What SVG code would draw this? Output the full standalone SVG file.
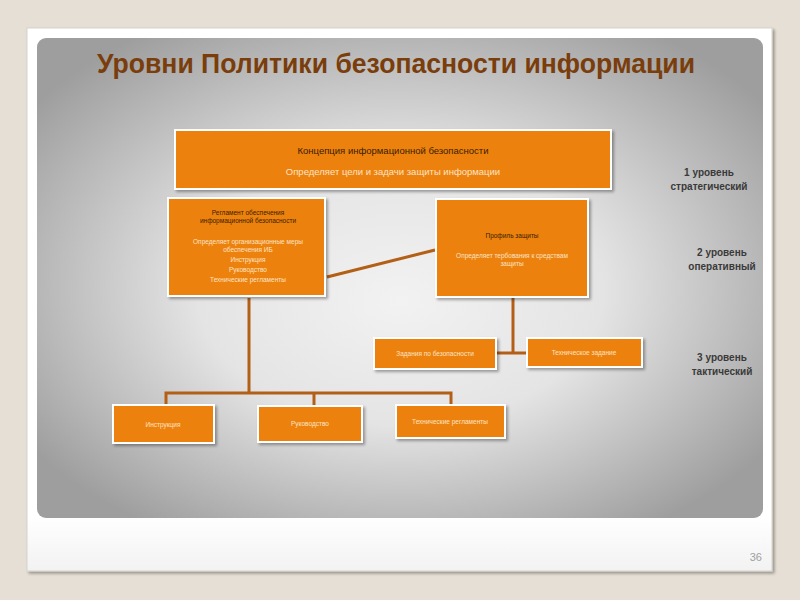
<svg xmlns="http://www.w3.org/2000/svg" width="800" height="600" viewBox="0 0 800 600">
  <defs>
    <radialGradient id="panelGrad" cx="0.5" cy="0.5" r="0.62" fx="0.5" fy="0.55">
      <stop offset="0" stop-color="#f2f2f2"/>
      <stop offset="0.45" stop-color="#e4e4e4"/>
      <stop offset="1" stop-color="#9e9e9e"/>
    </radialGradient>
    <linearGradient id="cardGrad" x1="0" y1="0" x2="0" y2="1">
      <stop offset="0" stop-color="#ffffff"/>
      <stop offset="0.9" stop-color="#ffffff"/>
      <stop offset="1" stop-color="#f2f2f2"/>
    </linearGradient>
    <filter id="shadow" x="-10%" y="-10%" width="130%" height="130%">
      <feGaussianBlur in="SourceAlpha" stdDeviation="1.5"/>
      <feOffset dx="2" dy="2"/>
      <feComponentTransfer><feFuncA type="linear" slope="0.35"/></feComponentTransfer>
      <feMerge><feMergeNode/><feMergeNode in="SourceGraphic"/></feMerge>
    </filter>
  </defs>
  <style>
    .box { fill: #ec820c; stroke: #ffffff; stroke-width: 2; filter: url(#shadow); }
    .t { font-family: "Liberation Sans", Arial, sans-serif; text-anchor: middle; }
    .dark { fill: #3a1c00; }
    .light { fill: #fde3c6; }
    .lvl { font-family: "Liberation Sans", Arial, sans-serif; font-weight: bold; font-size: 10px; fill: #3a3a3a; text-anchor: middle; }
    .conn { stroke: #b45f16; stroke-width: 3; fill: none; }
  </style>

  <rect x="0" y="0" width="800" height="600" fill="#e5dfd5"/>
  <rect x="27" y="28" width="745" height="543" fill="url(#cardGrad)" stroke="#d8d3ca" stroke-width="1" filter="url(#shadow)"/>
  <rect x="37" y="38" width="726" height="480" rx="9" ry="9" fill="url(#panelGrad)"/>

  <text x="396" y="73" font-family="'Liberation Sans', Arial, sans-serif" font-weight="bold" font-size="28" fill="#7a3d0c" text-anchor="middle" textLength="598" lengthAdjust="spacingAndGlyphs">Уровни Политики безопасности информации</text>

  <g id="connectors">
    <line class="conn" x1="327" y1="277" x2="435" y2="250"/>
    <polyline class="conn" points="249,298 249,393"/>
    <polyline class="conn" points="166,405 166,393 451,393 451,405"/>
    <line class="conn" x1="314" y1="393" x2="314" y2="406"/>
    <polyline class="conn" points="513,298 513,353"/>
    <line class="conn" x1="497" y1="353" x2="527" y2="353"/>
  </g>

  <g id="node-concept">
    <rect class="box" x="175" y="130" width="436" height="59"/>
    <text class="t dark" x="393" y="154" font-size="9.5">Концепция информационной безопасности</text>
    <text class="t light" x="393" y="175" font-size="9.5">Определяет цели и задачи защиты информации</text>
  </g>

  <g id="node-reglament">
    <rect class="box" x="168" y="198" width="157" height="98"/>
    <text class="t dark" x="248" y="215" font-size="6.5">Регламент обеспечения</text>
    <text class="t dark" x="248" y="223" font-size="6.5">информационной безопасности</text>
    <text class="t light" x="248" y="244" font-size="6.5">Определяет организационные меры</text>
    <text class="t light" x="248" y="252" font-size="6.5">обеспечения ИБ</text>
    <text class="t light" x="248" y="262" font-size="6.5">Инструкция</text>
    <text class="t light" x="248" y="272" font-size="6.5">Руководство</text>
    <text class="t light" x="248" y="282" font-size="6.5">Технические регламенты</text>
  </g>

  <g id="node-profile">
    <rect class="box" x="436" y="199" width="152" height="98"/>
    <text class="t dark" x="512" y="238" font-size="6.5">Профиль защиты</text>
    <text class="t light" x="512" y="258" font-size="6.5">Определяет тербования к средствам</text>
    <text class="t light" x="512" y="266" font-size="6.5">защиты</text>
  </g>

  <g id="node-zadaniya">
    <rect class="box" x="374" y="338" width="122" height="31"/>
    <text class="t light" x="435" y="356" font-size="6.5">Задания по безопасности</text>
  </g>

  <g id="node-tz">
    <rect class="box" x="527" y="338" width="115" height="29"/>
    <text class="t light" x="584" y="355" font-size="6.5">Техническое задание</text>
  </g>

  <g id="node-instr">
    <rect class="box" x="113" y="405" width="101" height="38"/>
    <text class="t light" x="163" y="427" font-size="6.5">Инструкция</text>
  </g>

  <g id="node-ruk">
    <rect class="box" x="258" y="406" width="104" height="36"/>
    <text class="t light" x="310" y="426" font-size="6.5">Руководство</text>
  </g>

  <g id="node-techreg">
    <rect class="box" x="396" y="405" width="109" height="33"/>
    <text class="t light" x="450" y="424" font-size="6.5">Технические регламенты</text>
  </g>

  <g id="levels">
    <text class="lvl" x="709" y="176">1 уровень</text>
    <text class="lvl" x="709" y="190">стратегический</text>
    <text class="lvl" x="722" y="256">2 уровень</text>
    <text class="lvl" x="722" y="270">оперативный</text>
    <text class="lvl" x="722" y="361">3 уровень</text>
    <text class="lvl" x="722" y="375">тактический</text>
  </g>

  <text x="762" y="561" font-family="'Liberation Sans', Arial, sans-serif" font-size="11" fill="#a0a0a0" text-anchor="end">36</text>
</svg>
